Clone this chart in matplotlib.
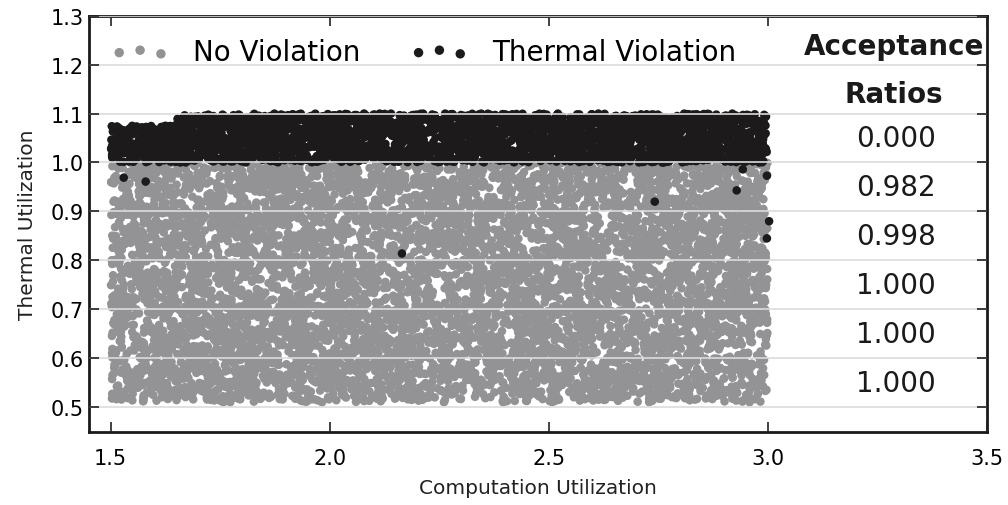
import numpy as np
import matplotlib.pyplot as plt

# Simulated task sets: computation vs thermal utilization
n_ok = 7000
ok_x_span = (1.5, 3.0)
ok_y_span = (0.51, 1.0)

# Violating sets form two blocks (lower ceiling at small utilization)
hot_counts = [230, 2600]
hot_x_spans = [(1.5, 1.65), (1.65, 3.0)]
hot_y_spans = [(1.0, 1.075), (1.0, 1.1)]

# Isolated thermal violations below the 1.0 bound
hot_x = [1.530, 1.580, 2.165, 2.742, 2.929, 2.943, 2.998, 3.003, 2.998]
hot_y = [0.969, 0.961, 0.814, 0.920, 0.943, 0.986, 0.973, 0.880, 0.845]

# Acceptance ratio per thermal utilization band
band_y = [1.05, 0.95, 0.85, 0.75, 0.65, 0.55]
ratios = ["0.000", "0.982", "0.998", "1.000", "1.000", "1.000"]

rng = np.random.default_rng(7)
ok_x = rng.uniform(*ok_x_span, n_ok)
ok_y = rng.uniform(*ok_y_span, n_ok)
all_hot_x, all_hot_y = [], []
for n, xs, ys in zip(hot_counts, hot_x_spans, hot_y_spans):
    all_hot_x.append(rng.uniform(*xs, n))
    all_hot_y.append(rng.uniform(*ys, n))
all_hot_x = np.concatenate(all_hot_x + [hot_x])
all_hot_y = np.concatenate(all_hot_y + [hot_y])

gray = "#939395"
black = "#1c1a1b"

fig = plt.figure(figsize=(10.08, 5.06), dpi=100)
ax = fig.add_axes([0.088, 0.145, 0.891, 0.822])

ax.scatter(ok_x, ok_y, s=38, c=gray, edgecolors="none", label="No Violation")
ax.scatter(all_hot_x, all_hot_y, s=38, c=black, edgecolors="none",
           label="Thermal Violation")

ax.set_xlim(1.45, 3.5)
ax.set_ylim(0.45, 1.3)
ax.set_xticks([1.5, 2.0, 2.5, 3.0, 3.5])
ax.set_yticks(np.arange(0.5, 1.31, 0.1))
ax.yaxis.grid(True, color="#dcdcdc", linewidth=1.2)
ax.set_axisbelow(False)

ax.tick_params(direction="in", top=True, right=True, labelsize=15,
               length=7, width=1.2, color="#222222")
ax.tick_params(axis="x", pad=12)
for sp in ax.spines.values():
    sp.set_linewidth(2)
    sp.set_color("#1a1a1a")

ax.set_xlabel("Computation Utilization", fontsize=14.5, color="#222222",
              labelpad=7)
ax.set_ylabel("Thermal Utilization", fontsize=14.5, color="#222222",
              labelpad=10)

ax.legend(loc="upper left", ncol=2, frameon=False, scatterpoints=3,
          fontsize=20, markerscale=1.1, handlelength=2.1, handletextpad=0.85,
          columnspacing=1.8, borderaxespad=0.4, bbox_to_anchor=(0.0, 1.0))

ax.text(3.288, 1.239, "Acceptance", ha="center", va="center",
        fontsize=20, fontweight="bold", color="#1a1a1a")
ax.text(3.288, 1.141, "Ratios", ha="center", va="center",
        fontsize=20, fontweight="bold", color="#1a1a1a")
for yy, r in zip(band_y, ratios):
    ax.text(3.293, yy, r, ha="center", va="center", fontsize=20,
            color="#1a1a1a")

fig.savefig("out.png", dpi=100)
